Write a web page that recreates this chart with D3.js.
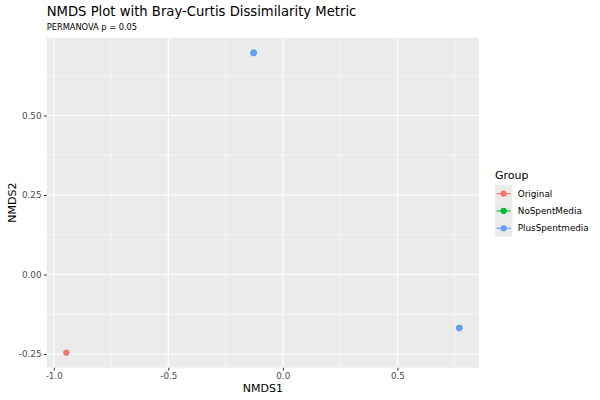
<!DOCTYPE html>
<html>
<head>
<meta charset="utf-8">
<script src="https://cdn.jsdelivr.net/npm/d3@7"></script>
<style>
  body { margin: 0; background: #fff; }
  text { font-family: "DejaVu Sans", sans-serif; }
</style>
</head>
<body>
<div id="chart"></div>
<script>
// samples: group, NMDS1, NMDS2
var sampleGroup = ["Original", "NoSpentMedia", "NoSpentMedia", "PlusSpentmedia", "PlusSpentmedia"];
var nmds1 = [-0.945, -0.1275, 0.7705, -0.128, 0.770];
var nmds2 = [-0.246, 0.6975, -0.1675, 0.696, -0.169];

var groups = ["Original", "NoSpentMedia", "PlusSpentmedia"];
var groupColors = ["#F8766D", "#00BA38", "#619CFF"];

var xTicks = [-1.0, -0.5, 0.0, 0.5];
var xTickLabels = ["-1.0", "-0.5", "0.0", "0.5"];
var xMinor = [-0.75, -0.25, 0.25, 0.75];
var yTicks = [-0.25, 0.00, 0.25, 0.50];
var yTickLabels = ["-0.25", "0.00", "0.25", "0.50"];
var yMinor = [-0.125, 0.125, 0.375, 0.625];

var width = 600, height = 400;
var panel = {left: 46.7, right: 479, top: 37.7, bottom: 367.7};

var svg = d3.select("#chart").append("svg")
    .attr("width", width)
    .attr("height", height);

// ggplot style 5% expansion
function expand(ext) {
    var d = (ext[1] - ext[0]) * 0.05;
    return [ext[0] - d, ext[1] + d];
}

var x = d3.scaleLinear()
    .domain(expand(d3.extent(nmds1)))
    .range([panel.left, panel.right]);
var y = d3.scaleLinear()
    .domain(expand(d3.extent(nmds2)))
    .range([panel.bottom, panel.top]);
var color = d3.scaleOrdinal().domain(groups).range(groupColors);

// panel background
svg.append("rect")
    .attr("x", panel.left)
    .attr("y", panel.top)
    .attr("width", panel.right - panel.left)
    .attr("height", panel.bottom - panel.top)
    .attr("fill", "#EBEBEB");

var grid = svg.append("g");
grid.selectAll(".xminor").data(xMinor).enter().append("line")
    .attr("x1", function (d) { return x(d); })
    .attr("x2", function (d) { return x(d); })
    .attr("y1", panel.top).attr("y2", panel.bottom)
    .attr("stroke", "#fff").attr("stroke-width", 0.55);
grid.selectAll(".yminor").data(yMinor).enter().append("line")
    .attr("y1", function (d) { return y(d); })
    .attr("y2", function (d) { return y(d); })
    .attr("x1", panel.left).attr("x2", panel.right)
    .attr("stroke", "#fff").attr("stroke-width", 0.55);
grid.selectAll(".xmajor").data(xTicks).enter().append("line")
    .attr("x1", function (d) { return x(d); })
    .attr("x2", function (d) { return x(d); })
    .attr("y1", panel.top).attr("y2", panel.bottom)
    .attr("stroke", "#fff").attr("stroke-width", 1.1);
grid.selectAll(".ymajor").data(yTicks).enter().append("line")
    .attr("y1", function (d) { return y(d); })
    .attr("y2", function (d) { return y(d); })
    .attr("x1", panel.left).attr("x2", panel.right)
    .attr("stroke", "#fff").attr("stroke-width", 1.1);

// axes
var xAxis = d3.axisBottom(x)
    .tickValues(xTicks)
    .tickFormat(function (d, i) { return xTickLabels[i]; })
    .tickSize(2.7).tickPadding(2.5);
var yAxis = d3.axisLeft(y)
    .tickValues(yTicks)
    .tickFormat(function (d, i) { return yTickLabels[i]; })
    .tickSize(2.7).tickPadding(2.5);

function styleAxis(g) {
    g.select(".domain").remove();
    g.selectAll(".tick line").attr("stroke", "#333333").attr("stroke-width", 1.07);
    g.selectAll(".tick text")
        .attr("fill", "#4D4D4D")
        .style("font-size", "8.8px")
        .style("font-family", "DejaVu Sans");
}
svg.append("g")
    .attr("transform", "translate(0," + panel.bottom + ")")
    .call(xAxis).call(styleAxis);
svg.append("g")
    .attr("transform", "translate(" + panel.left + ",0)")
    .call(yAxis).call(styleAxis);

// points
var samples = nmds1.map(function (d, i) {
    return {group: sampleGroup[i], x: d, y: nmds2[i]};
});
svg.append("g").selectAll("circle")
    .data(samples).enter().append("circle")
    .attr("cx", function (d) { return x(d.x); })
    .attr("cy", function (d) { return y(d.y); })
    .attr("r", 3.1)
    .attr("fill", function (d) { return color(d.group); });

// titles
svg.append("text")
    .attr("x", panel.left).attr("y", 15.5)
    .style("font-size", "13.2px")
    .attr("fill", "#000")
    .text("NMDS Plot with Bray-Curtis Dissimilarity Metric");
svg.append("text")
    .attr("x", panel.left).attr("y", 29.5)
    .style("font-size", "9.2px")
    .style("font-family", "'DejaVu Sans Condensed', 'DejaVu Sans'")
    .attr("fill", "#000")
    .text("PERMANOVA p = 0.05");

svg.append("text")
    .attr("x", (panel.left + panel.right) / 2).attr("y", 392)
    .attr("text-anchor", "middle")
    .style("font-size", "11px")
    .text("NMDS1");
svg.append("text")
    .attr("transform", "translate(15.5," + (panel.top + panel.bottom) / 2 + ") rotate(-90)")
    .attr("text-anchor", "middle")
    .style("font-size", "11px")
    .text("NMDS2");

// legend
var legend = svg.append("g").attr("transform", "translate(495,0)");
legend.append("text")
    .attr("x", 0).attr("y", 178.5)
    .style("font-size", "11px")
    .text("Group");
var keySize = 17.3;
var keyTop = 185;
var items = legend.selectAll(".key").data(groups).enter().append("g")
    .attr("transform", function (d, i) { return "translate(0," + (keyTop + i * keySize) + ")"; });
items.append("rect")
    .attr("width", keySize).attr("height", keySize)
    .attr("fill", "#EBEBEB");
items.append("line")
    .attr("x1", 1.5).attr("x2", keySize - 1.5)
    .attr("y1", keySize / 2).attr("y2", keySize / 2)
    .attr("stroke", function (d) { return color(d); })
    .attr("stroke-width", 1.1);
items.append("circle")
    .attr("cx", keySize / 2).attr("cy", keySize / 2)
    .attr("r", 3.1)
    .attr("fill", function (d) { return color(d); });
items.append("text")
    .attr("x", keySize + 5.5).attr("y", keySize / 2 + 3.1)
    .style("font-size", "8.8px")
    .text(function (d) { return d; });
</script>
</body>
</html>
